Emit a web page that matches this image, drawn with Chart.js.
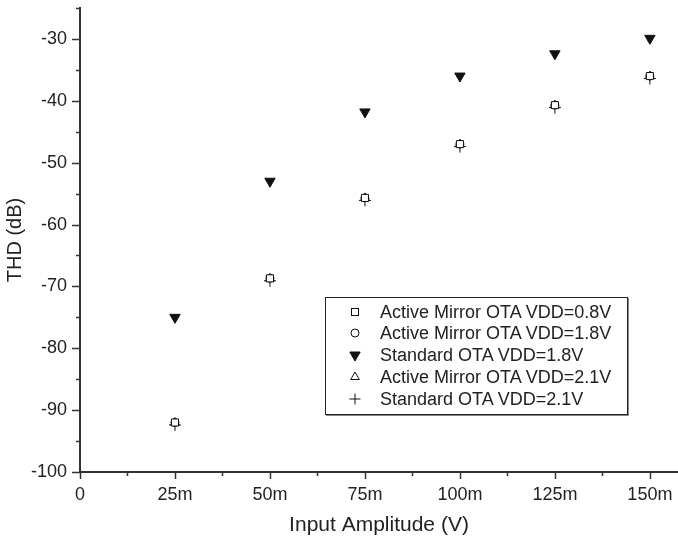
<!DOCTYPE html>
<html>
<head>
<meta charset="utf-8">
<script src="https://cdn.jsdelivr.net/npm/chart.js@4/dist/chart.umd.min.js"></script>
<style>
  html, body { margin: 0; padding: 0; background: #fff; }
  #wrap { position: relative; width: 678px; height: 542px; }
  #legend {
    position: absolute; left: 325px; top: 297px; width: 303px; height: 118px;
    border: 1px solid #222; box-shadow: 1px 1px 0 #888; background: #fff;
    font-family: "Liberation Sans", Arial, sans-serif; font-size: 18px; color: #222;
    box-sizing: border-box;
  }
  .row { position: absolute; left: 0; height: 20px; line-height: 20px; white-space: nowrap; }
  .row svg { position: absolute; left: 22px; top: 3px; }
  .row span { position: absolute; left: 54px; top: 0; }
</style>
</head>
<body>
<div id="wrap">
  <canvas id="c" width="678" height="542"></canvas>
  <div id="legend"></div>
</div>
<script>
// ---- data ----
const xValues = [25, 50, 75, 100, 125, 150];           // input amplitude (mV)
const seriesNames = [
  "Active Mirror OTA VDD=0.8V",
  "Active Mirror OTA VDD=1.8V",
  "Standard OTA VDD=1.8V",
  "Active Mirror OTA VDD=2.1V",
  "Standard OTA VDD=2.1V"
];
const activeMirror08 = [-92.0, -68.7, -55.7, -47.0, -40.7, -36.0];
const activeMirror18 = [-92.0, -68.7, -55.7, -47.0, -40.7, -36.0];
const standard18     = [-75.0, -53.0, -41.8, -36.0, -32.4, -29.9];
const activeMirror21 = [-92.0, -68.7, -55.7, -47.0, -40.7, -36.0];
const standard21     = [-92.4, -69.1, -56.1, -47.4, -41.1, -36.4];
const xTickLabels = ["0", "25m", "50m", "75m", "100m", "125m", "150m"];
const yTickLabels = ["-100", "-90", "-80", "-70", "-60", "-50", "-40", "-30"];

const INK = '#111';
const AXIS = '#333';
const FONT = '"Liberation Sans", Arial, sans-serif';

function pts(ys) { return xValues.map((x, i) => ({ x: x, y: ys[i] })); }

const styles = [
  { pointStyle: 'rect', radius: 5, fill: '#fff', rotation: 0 },
  { pointStyle: 'circle', radius: 4, fill: '#fff', rotation: 0 },
  { pointStyle: 'triangle', radius: 6, fill: INK, rotation: 180 },
  { pointStyle: 'triangle', radius: 5, fill: 'rgba(0,0,0,0)', rotation: 0 },
  { pointStyle: 'cross', radius: 6, fill: INK, rotation: 0 }
];
const seriesData = [activeMirror08, activeMirror18, standard18, activeMirror21, standard21];

const datasets = seriesData.map((d, i) => ({
  label: seriesNames[i],
  data: pts(d),
  showLine: false,
  pointStyle: styles[i].pointStyle,
  pointRadius: styles[i].radius,
  pointHoverRadius: styles[i].radius,
  pointRotation: styles[i].rotation,
  pointBackgroundColor: styles[i].fill,
  pointBorderColor: INK,
  pointBorderWidth: 1
}));

const tickMarks = {
  id: 'tickMarks',
  afterDraw(chart) {
    const ctx = chart.ctx, xs = chart.scales.x, ys = chart.scales.y;
    ctx.save();
    ctx.strokeStyle = AXIS;
    ctx.lineWidth = 1.5;
    xs.ticks.forEach(t => {
      const px = Math.round(xs.getPixelForValue(t.value)) + 0.5;
      const major = Math.abs(t.value % 25) < 1e-6;
      ctx.beginPath();
      ctx.moveTo(px, xs.top);
      ctx.lineTo(px, xs.top + (major ? 7 : 4));
      ctx.stroke();
    });
    ys.ticks.forEach(t => {
      const py = Math.round(ys.getPixelForValue(t.value)) + 0.5;
      const major = Math.abs(t.value % 10) < 1e-6;
      ctx.beginPath();
      ctx.moveTo(ys.right, py);
      ctx.lineTo(ys.right - (major ? 8 : 4), py);
      ctx.stroke();
    });
    ctx.restore();
  }
};

function zeroPad(s) { s.paddingLeft = 0; s.paddingRight = 0; s.paddingTop = 0; s.paddingBottom = 0; }

new Chart(document.getElementById('c'), {
  type: 'scatter',
  data: { datasets },
  plugins: [tickMarks],
  options: {
    responsive: false,
    animation: false,
    events: [],
    layout: { autoPadding: false, padding: { top: 8, right: 0, left: 0, bottom: 0 } },
    plugins: { legend: { display: false }, tooltip: { enabled: false } },
    scales: {
      x: {
        type: 'linear',
        min: 0, max: 157.4,
        afterFit(s) { s.height = 70; zeroPad(s); },
        border: { display: true, color: AXIS, width: 2 },
        grid: { display: false, drawTicks: false },
        ticks: {
          stepSize: 12.5, includeBounds: false, autoSkip: false, maxRotation: 0,
          padding: 12, color: '#222', font: { family: FONT, size: 18 },
          callback: (v) => {
            const idx = xValues.indexOf(v);
            if (v === 0) return xTickLabels[0];
            return idx >= 0 ? xTickLabels[idx + 1] : '';
          }
        },
        title: { display: true, text: 'Input Amplitude (V)', color: '#222',
                 font: { family: FONT, size: 21 }, padding: { bottom: 4 } }
      },
      y: {
        type: 'linear',
        min: -100, max: -25,
        afterFit(s) { s.width = 80; zeroPad(s); },
        border: { display: true, color: AXIS, width: 2 },
        grid: { display: false, drawTicks: false },
        ticks: {
          stepSize: 5, includeBounds: false, autoSkip: false,
          padding: 13, color: '#222', font: { family: FONT, size: 18 },
          callback: (v) => {
            const lab = String(v);
            return yTickLabels.indexOf(lab) >= 0 ? lab : '';
          }
        },
        title: { display: true, text: 'THD (dB)', color: '#222',
                 font: { family: FONT, size: 20 }, padding: { top: 3 } }
      }
    }
  }
});

// ---- legend (HTML overlay) ----
const markerSvgs = [
  '<svg width="14" height="14"><rect x="3.5" y="3.5" width="7" height="7" fill="none" stroke="#111" stroke-width="1"/></svg>',
  '<svg width="14" height="14"><circle cx="7" cy="7" r="4" fill="none" stroke="#111" stroke-width="1"/></svg>',
  '<svg width="14" height="14"><polygon points="1.8,4 12.2,4 7,13" fill="#111" stroke="#111" stroke-width="1"/></svg>',
  '<svg width="14" height="14"><polygon points="7,2 11.3,9.5 2.7,9.5" fill="none" stroke="#111" stroke-width="1"/></svg>',
  '<svg width="14" height="14"><line x1="7" y1="1.5" x2="7" y2="12.5" stroke="#111"/><line x1="1.5" y1="7" x2="12.5" y2="7" stroke="#111"/></svg>'
];
const legendRowTops = [4, 25, 47, 69, 91];
const lg = document.getElementById('legend');
seriesNames.forEach((n, i) => {
  const r = document.createElement('div');
  r.className = 'row';
  r.style.top = legendRowTops[i] + 'px';
  r.innerHTML = markerSvgs[i] + '<span>' + n + '</span>';
  lg.appendChild(r);
});
</script>
</body>
</html>
